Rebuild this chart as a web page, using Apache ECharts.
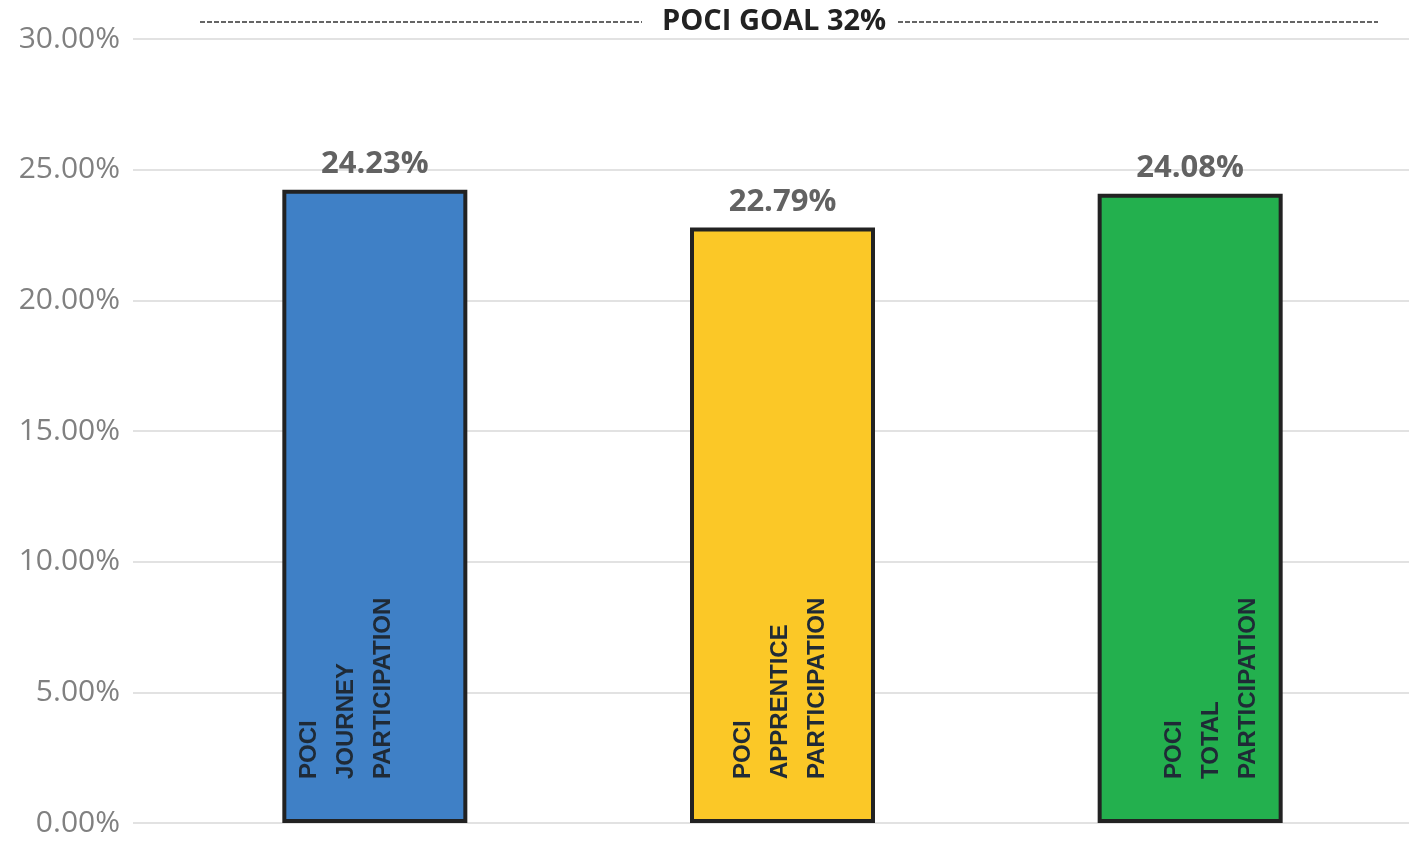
<!DOCTYPE html>
<html>
<head>
<meta charset="utf-8">
<script src="https://cdn.jsdelivr.net/npm/echarts@6/dist/echarts.min.js"></script>
<style>
  html, body { margin: 0; padding: 0; background: #fff; }
  #chart { width: 1409px; height: 842px; }
</style>
</head>
<body>
<div id="chart"></div>
<script>
// chart data
const categories = ['POCI\nJOURNEY\nPARTICIPATION', 'POCI\nAPPRENTICE\nPARTICIPATION', 'POCI\nTOTAL\nPARTICIPATION'];
const values = [24.23, 22.79, 24.08];
const barColors = ['#3f80c6', '#fbc827', '#23b04e'];
// horizontal nudge of the rotated names inside each bar
const labelShift = [-28, -2, 21];
const goalText = 'POCI GOAL 32%';

const chart = echarts.init(document.getElementById('chart'));

const grayText = '#808080';
const gridColor = '#d9d9d9';

const option = {
  animation: false,
  grid: [
    { left: 133, right: 0, top: 39, bottom: 19 },   // axis + gridlines
    { left: 171, right: 15, top: 39, bottom: 19 }   // bars
  ],
  xAxis: [
    { gridIndex: 0, type: 'category', data: [''], show: false },
    {
      gridIndex: 1,
      type: 'category',
      data: categories,
      axisLine: { show: false },
      axisTick: { show: false },
      axisLabel: { show: false }
    }
  ],
  yAxis: [
    {
      gridIndex: 0,
      type: 'value',
      min: 0,
      max: 30,
      interval: 5,
      axisLine: { show: false },
      axisTick: { show: false },
      splitLine: { lineStyle: { color: gridColor, width: 1.5 } },
      axisLabel: {
        color: grayText,
        fontFamily: 'Open Sans',
        fontSize: 30,
        margin: 13,
        formatter: v => v.toFixed(2) + '%'
      }
    },
    {
      gridIndex: 1,
      type: 'value',
      min: 0,
      max: 30,
      show: false,
      splitLine: { show: false }
    }
  ],
  series: [
    {
      type: 'bar',
      xAxisIndex: 1,
      yAxisIndex: 1,
      barWidth: 185,
      data: values.map((v, i) => ({
        value: v,
        itemStyle: { color: barColors[i], borderColor: '#222222', borderWidth: 4 },
        label: {
          show: true,
          position: 'insideBottom',
          rotate: 90,
          align: 'left',
          verticalAlign: 'middle',
          distance: 44,
          offset: [0, labelShift[i]],
          formatter: () => categories[i],
          color: '#1f2a36',
          fontFamily: 'Liberation Sans',
          fontWeight: 'bold',
          fontSize: 24,
          lineHeight: 37
        }
      }))
    },
    {
      // value labels above the bars
      type: 'bar',
      xAxisIndex: 1,
      yAxisIndex: 1,
      barWidth: 185,
      barGap: '-100%',
      silent: true,
      itemStyle: { color: 'transparent' },
      data: values,
      label: {
        show: true,
        position: 'top',
        distance: 10,
        formatter: p => p.value.toFixed(2) + '%',
        color: '#626262',
        fontFamily: 'Open Sans',
        fontWeight: 'bold',
        fontSize: 31
      }
    }
  ],
  graphic: [
    {
      type: 'line',
      shape: { x1: 200, y1: 22, x2: 642, y2: 22 },
      style: { stroke: '#333', lineWidth: 1.5, lineDash: [5, 2] }
    },
    {
      type: 'text',
      left: 662,
      top: 7,
      style: {
        text: goalText,
        fill: '#222',
        font: 'bold 29px "Open Sans"'
      }
    },
    {
      type: 'line',
      shape: { x1: 898, y1: 22, x2: 1378, y2: 22 },
      style: { stroke: '#333', lineWidth: 1.5, lineDash: [5, 2] }
    }
  ]
};

chart.setOption(option);
</script>
</body>
</html>
